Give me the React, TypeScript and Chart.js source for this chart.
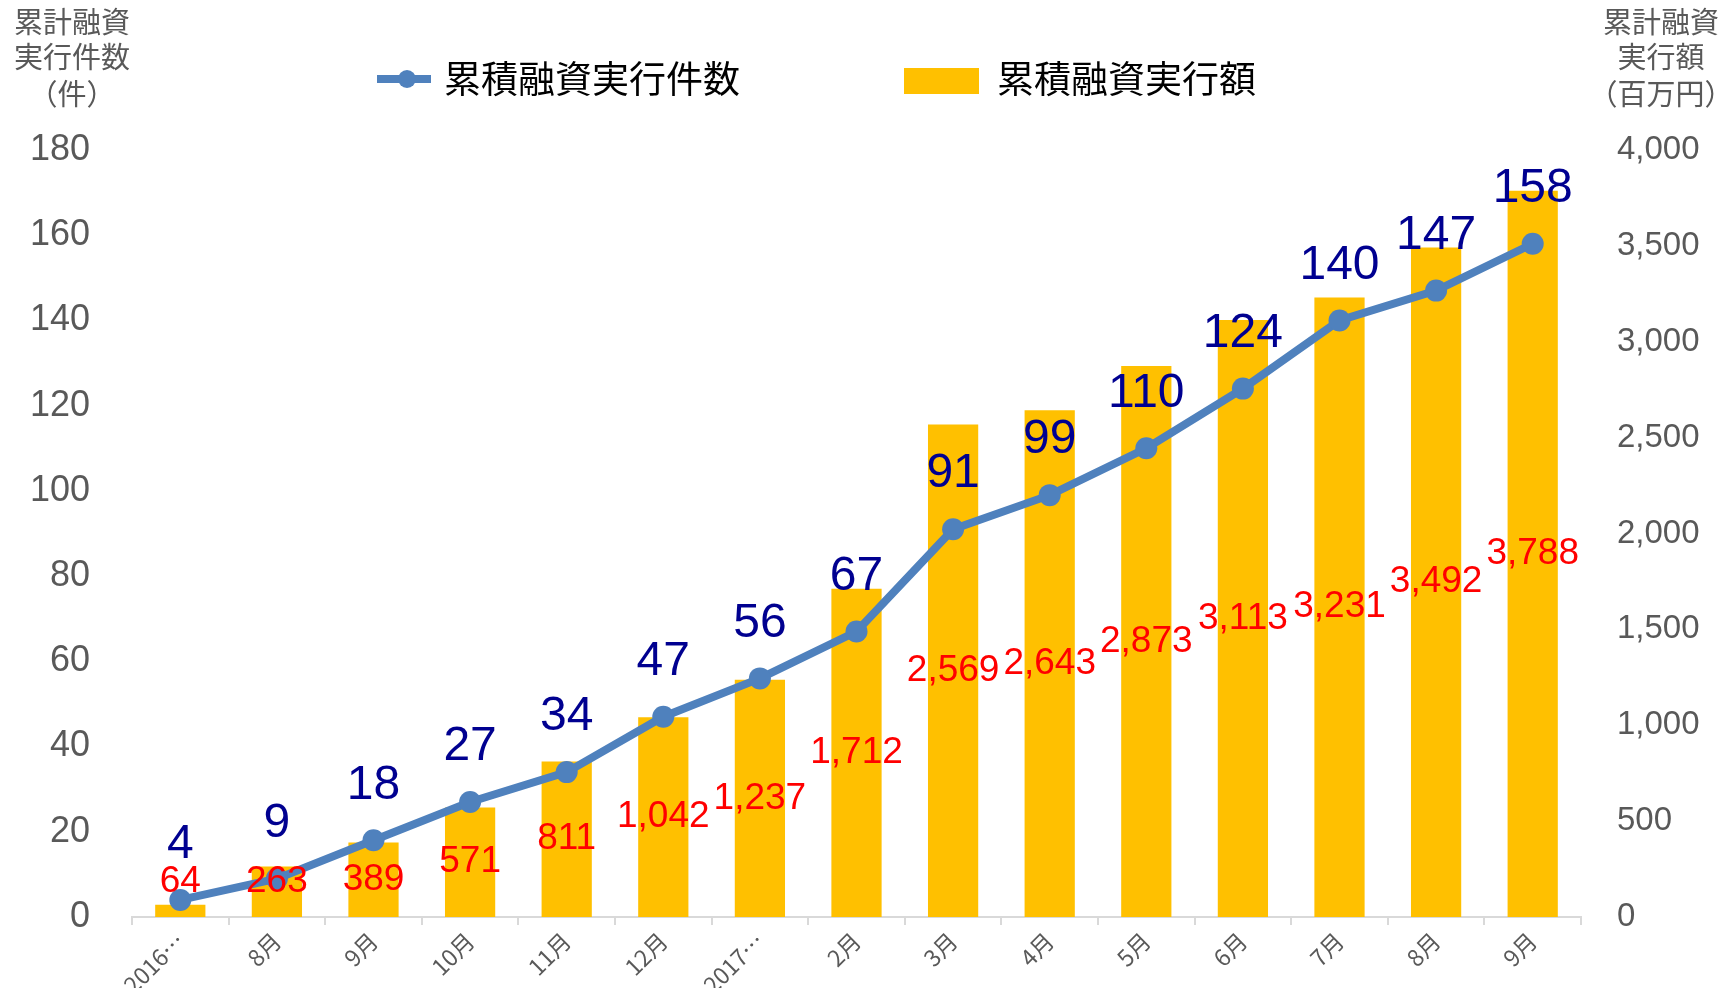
import React, { useEffect, useRef } from "react";
import { Chart, registerables } from "chart.js";

Chart.register(...registerables);

const categories = ["2016…", "8月", "9月", "10月", "11月", "12月", "2017…", "2月", "3月", "4月", "5月", "6月", "7月", "8月", "9月"];
const counts = [4, 9, 18, 27, 34, 47, 56, 67, 91, 99, 110, 124, 140, 147, 158];
const amounts = [64, 263, 389, 571, 811, 1042, 1237, 1712, 2569, 2643, 2873, 3113, 3231, 3492, 3788];
const countLabel = "累積融資実行件数";
const amountLabel = "累積融資実行額";
const leftTitle = ["累計融資", "実行件数", "（件）"];
const rightTitle = ["累計融資", "実行額", "（百万円）"];

const BAR = "#FFC000";
const LINE = "#4F81BD";
const GRAY = "#595959";
const NUM_FONT = "'Liberation Sans', Arial, sans-serif";
const CJK_FONT = "'Noto Sans CJK JP', 'Noto Sans', sans-serif";

const fmt = (v: number) => v.toLocaleString("en-US");

const customPlugin = {
  id: "customDraw",
  afterDatasetsDraw(chart: any) {
    const ctx = chart.ctx;
    const barMeta = chart.getDatasetMeta(1);
    const lineMeta = chart.getDatasetMeta(0);
    ctx.save();
    ctx.textAlign = "center";
    ctx.textBaseline = "middle";
    ctx.fillStyle = "#FF0000";
    ctx.font = `37px ${NUM_FONT}`;
    barMeta.data.forEach((el: any, i: number) => {
      const base = el.base;
      const mid = (el.y + base) / 2;
      const y = Math.min(mid, base - 35);
      ctx.fillText(fmt(amounts[i]), el.x, y);
    });
    ctx.fillStyle = "#000090";
    ctx.font = `48px ${NUM_FONT}`;
    lineMeta.data.forEach((el: any, i: number) => {
      ctx.fillText(String(counts[i]), el.x, el.y - 55);
    });
    ctx.restore();
  },
  afterDraw(chart: any) {
    const ctx = chart.ctx;
    ctx.save();
    ctx.textAlign = "center";
    ctx.textBaseline = "middle";
    ctx.fillStyle = GRAY;
    ctx.font = `29px ${CJK_FONT}`;
    const ys = [22, 57, 94];
    leftTitle.forEach((t, i) => ctx.fillText(t, 72, ys[i]));
    rightTitle.forEach((t, i) => ctx.fillText(t, 1661, ys[i]));

    const ly = 79;
    ctx.strokeStyle = LINE;
    ctx.lineWidth = 8;
    ctx.beginPath();
    ctx.moveTo(377, ly);
    ctx.lineTo(431, ly);
    ctx.stroke();
    ctx.fillStyle = LINE;
    ctx.beginPath();
    ctx.arc(407, ly, 9, 0, Math.PI * 2);
    ctx.fill();
    ctx.fillStyle = "#000000";
    ctx.textAlign = "left";
    ctx.font = `37px ${CJK_FONT}`;
    ctx.fillText(countLabel, 444, ly);
    ctx.fillStyle = BAR;
    ctx.fillRect(904, 68, 75, 26);
    ctx.fillStyle = "#000000";
    ctx.fillText(amountLabel, 997, ly);
    ctx.restore();
  },
};

export default function App() {
  const ref = useRef<HTMLCanvasElement>(null);
  useEffect(() => {
    if (!ref.current) return;
    const chart = new Chart(ref.current, {
      type: "bar",
      data: {
        labels: categories,
        datasets: [
          {
            type: "line",
            label: countLabel,
            data: counts,
            yAxisID: "y",
            borderColor: LINE,
            backgroundColor: LINE,
            borderWidth: 8,
            pointRadius: 11,
            pointBackgroundColor: LINE,
            pointBorderWidth: 0,
            tension: 0,
            order: 0,
          } as any,
          {
            type: "bar",
            label: amountLabel,
            data: amounts,
            yAxisID: "y1",
            backgroundColor: BAR,
            barPercentage: 0.52,
            categoryPercentage: 1,
            order: 1,
          },
        ],
      },
      options: {
        responsive: false,
        animation: false,
        devicePixelRatio: 1,
        layout: { padding: { top: 150, left: 0, right: 0, bottom: 0 } },
        plugins: { legend: { display: false }, tooltip: { enabled: false } },
        scales: {
          x: {
            offset: true,
            grid: {
              offset: true,
              drawOnChartArea: false,
              drawTicks: true,
              tickLength: 8,
              color: "#D9D9D9",
              lineWidth: 2,
            },
            border: { display: true, color: "#D9D9D9", width: 2 },
            ticks: {
              autoSkip: false,
              minRotation: 45,
              maxRotation: 45,
              color: GRAY,
              padding: 2,
              font: { size: 23, family: CJK_FONT },
            },
            afterFit: (s: any) => {
              s.height = 71;
            },
          },
          y: {
            position: "left",
            min: 0,
            max: 180,
            ticks: {
              stepSize: 20,
              color: GRAY,
              padding: 42,
              font: { size: 36, family: NUM_FONT },
            },
            grid: { display: false, drawTicks: false },
            border: { display: false },
            afterFit: (s: any) => {
              s.width = 132;
            },
          },
          y1: {
            position: "right",
            min: 0,
            max: 4000,
            ticks: {
              stepSize: 500,
              color: GRAY,
              padding: 36,
              font: { size: 33, family: NUM_FONT },
              callback: (v: any) => fmt(Number(v)),
            },
            grid: { display: false, drawTicks: false },
            border: { display: false },
            afterFit: (s: any) => {
              s.width = 144;
            },
          },
        },
      },
      plugins: [customPlugin],
    });
    return () => chart.destroy();
  }, []);
  return (
    <div style={{ position: "fixed", left: 0, top: 0, width: 1725, height: 988, background: "#fff" }}>
      <canvas ref={ref} width={1725} height={988} style={{ display: "block" }} />
    </div>
  );
}
